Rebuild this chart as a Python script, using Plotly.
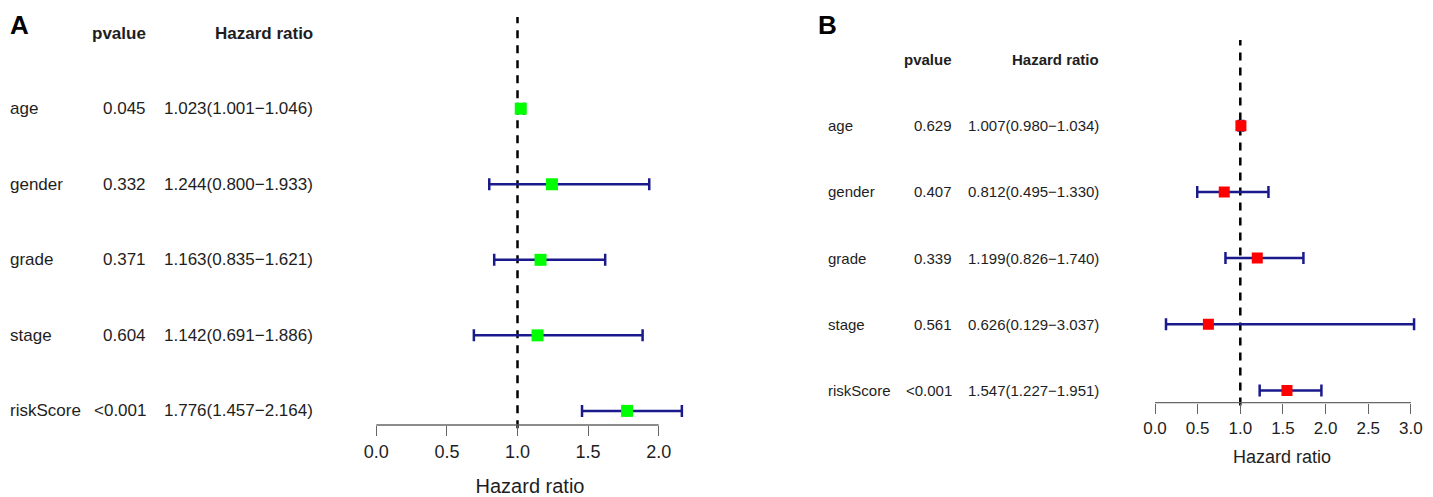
import numpy as np
import plotly.graph_objects as go

# ---- data ----
variables = ["age", "gender", "grade", "stage", "riskScore"]

pvalue_a = ["0.045", "0.332", "0.371", "0.604", "<0.001"]
hr_a = [1.023, 1.244, 1.163, 1.142, 1.776]
low_a = [1.001, 0.800, 0.835, 0.691, 1.457]
high_a = [1.046, 1.933, 1.621, 1.886, 2.164]

pvalue_b = ["0.629", "0.407", "0.339", "0.561", "<0.001"]
hr_b = [1.007, 0.812, 1.199, 0.626, 1.547]
low_b = [0.980, 0.495, 0.826, 0.129, 1.227]
high_b = [1.034, 1.330, 1.740, 3.037, 1.951]

ticks_a = [0.0, 0.5, 1.0, 1.5, 2.0]
ticks_b = [0.0, 0.5, 1.0, 1.5, 2.0, 2.5, 3.0]

# the page puts the plot 8px in from the top-left corner
OFF = 8
W, H = 1433 - OFF, 497 - OFF
FONT = "Liberation Sans, Arial, sans-serif"
TEXT_COLOR = "#1e1e1e"


def px(x):
    return max(x - OFF, 0) / W


def py(y):
    return 1 - (y - OFF) / H


def hr_text(h, lo, hi):
    return f"{h:.3f}({lo:.3f}\u2212{hi:.3f})"


fig = go.Figure()

panels = [
    dict(
        hr=hr_a, low=low_a, high=high_a, pvals=pvalue_a, ticks=ticks_a,
        xaxis="x", yaxis="y", color="#00ff00", msize=12, fsize=17,
        label_x=8, p_x=148, hr_x=315, letter="A", letter_x=8,
    ),
    dict(
        hr=hr_b, low=low_b, high=high_b, pvals=pvalue_b, ticks=ticks_b,
        xaxis="x2", yaxis="y2", color="#ff0000", msize=11, fsize=15,
        label_x=826, p_x=954, hr_x=1101, letter="B", letter_x=816,
    ),
]

rows = np.arange(len(variables))

for p in panels:
    hr = np.array(p["hr"])
    lo = np.array(p["low"])
    hi = np.array(p["high"])
    fig.add_trace(
        go.Scatter(
            x=hr,
            y=rows,
            mode="markers",
            marker=dict(symbol="square", size=p["msize"], color=p["color"], line=dict(width=0)),
            error_x=dict(
                type="data", symmetric=False, array=hi - hr, arrayminus=hr - lo,
                color="#1a1a8c", thickness=2.5, width=6,
            ),
            xaxis=p["xaxis"],
            yaxis=p["yaxis"],
            showlegend=False,
        )
    )

    yref = p["yaxis"]
    xref = p["xaxis"]
    # reference line and short axis line
    fig.add_shape(type="line", xref=xref, yref=yref + " domain", x0=1, x1=1, y0=-0.008, y1=1,
                  line=dict(color="black", width=2.5, dash="8px,7px"), layer="below")
    fig.add_shape(type="line", xref=xref, yref=yref + " domain", x0=p["ticks"][0], x1=p["ticks"][-1],
                  y0=0, y1=0, line=dict(color="#666666", width=1.3))

    f = dict(family=FONT, size=p["fsize"], color=TEXT_COLOR)
    fig.add_annotation(x=px(p["p_x"]), y=-1, xref="paper", yref=yref, text="<b>pvalue</b>",
                       xanchor="right", yanchor="middle", showarrow=False, font=f)
    fig.add_annotation(x=px(p["hr_x"]), y=-1, xref="paper", yref=yref, text="<b>Hazard ratio</b>",
                       xanchor="right", yanchor="middle", showarrow=False, font=f)
    for i, name in enumerate(variables):
        fig.add_annotation(x=px(p["label_x"]), y=i, xref="paper", yref=yref, text=name,
                           xanchor="left", yanchor="middle", showarrow=False, font=f)
        fig.add_annotation(x=px(p["p_x"]), y=i, xref="paper", yref=yref, text=p["pvals"][i],
                           xanchor="right", yanchor="middle", showarrow=False, font=f)
        fig.add_annotation(x=px(p["hr_x"]), y=i, xref="paper", yref=yref,
                           text=hr_text(p["hr"][i], p["low"][i], p["high"][i]),
                           xanchor="right", yanchor="middle", showarrow=False, font=f)

    fig.add_annotation(x=px(p["letter_x"]), y=1, xref="paper", yref="paper",
                       text=f"<b>{p['letter']}</b>", xanchor="left", yanchor="top",
                       showarrow=False, font=dict(family=FONT, size=26, color="black"))

axis_common = dict(showgrid=False, zeroline=False, showline=False, ticks="outside",
                   ticklen=10, tickwidth=1.3, tickcolor="#666666")

# pixel position of 0 and scale (px per unit) for each hazard ratio axis
zero_a, scale_a = 376.3, 141.2
zero_b, scale_b = 1155.0, 85.3

fig.update_layout(
    width=W,
    height=H,
    margin=dict(l=0, r=0, t=0, b=0),
    paper_bgcolor="white",
    plot_bgcolor="white",
    xaxis=dict(
        **axis_common,
        domain=[px(360), px(700)],
        range=[(360 - zero_a) / scale_a, (700 - zero_a) / scale_a],
        anchor="y",
        tickvals=ticks_a,
        ticktext=[f"{t:.1f}" for t in ticks_a],
        tickfont=dict(family=FONT, size=18, color=TEXT_COLOR),
        title=dict(text="Hazard ratio", font=dict(family=FONT, size=20, color=TEXT_COLOR), standoff=20),
    ),
    yaxis=dict(
        domain=[py(425), py(17)],
        range=[(425 - 108.7) / 75.55, (17 - 108.7) / 75.55],
        visible=False,
        anchor="x",
    ),
    xaxis2=dict(
        **axis_common,
        domain=[px(1140), px(1424)],
        range=[(1140 - zero_b) / scale_b, (1424 - zero_b) / scale_b],
        anchor="y2",
        tickvals=ticks_b,
        ticktext=[f"{t:.1f}" for t in ticks_b],
        tickfont=dict(family=FONT, size=17, color=TEXT_COLOR),
        title=dict(text="Hazard ratio", font=dict(family=FONT, size=18, color=TEXT_COLOR), standoff=13),
    ),
    yaxis2=dict(
        domain=[py(402.7), py(40)],
        range=[(402.7 - 125.7) / 66.2, (40 - 125.7) / 66.2],
        visible=False,
        anchor="x2",
    ),
)

fig.write_html("out.html")
